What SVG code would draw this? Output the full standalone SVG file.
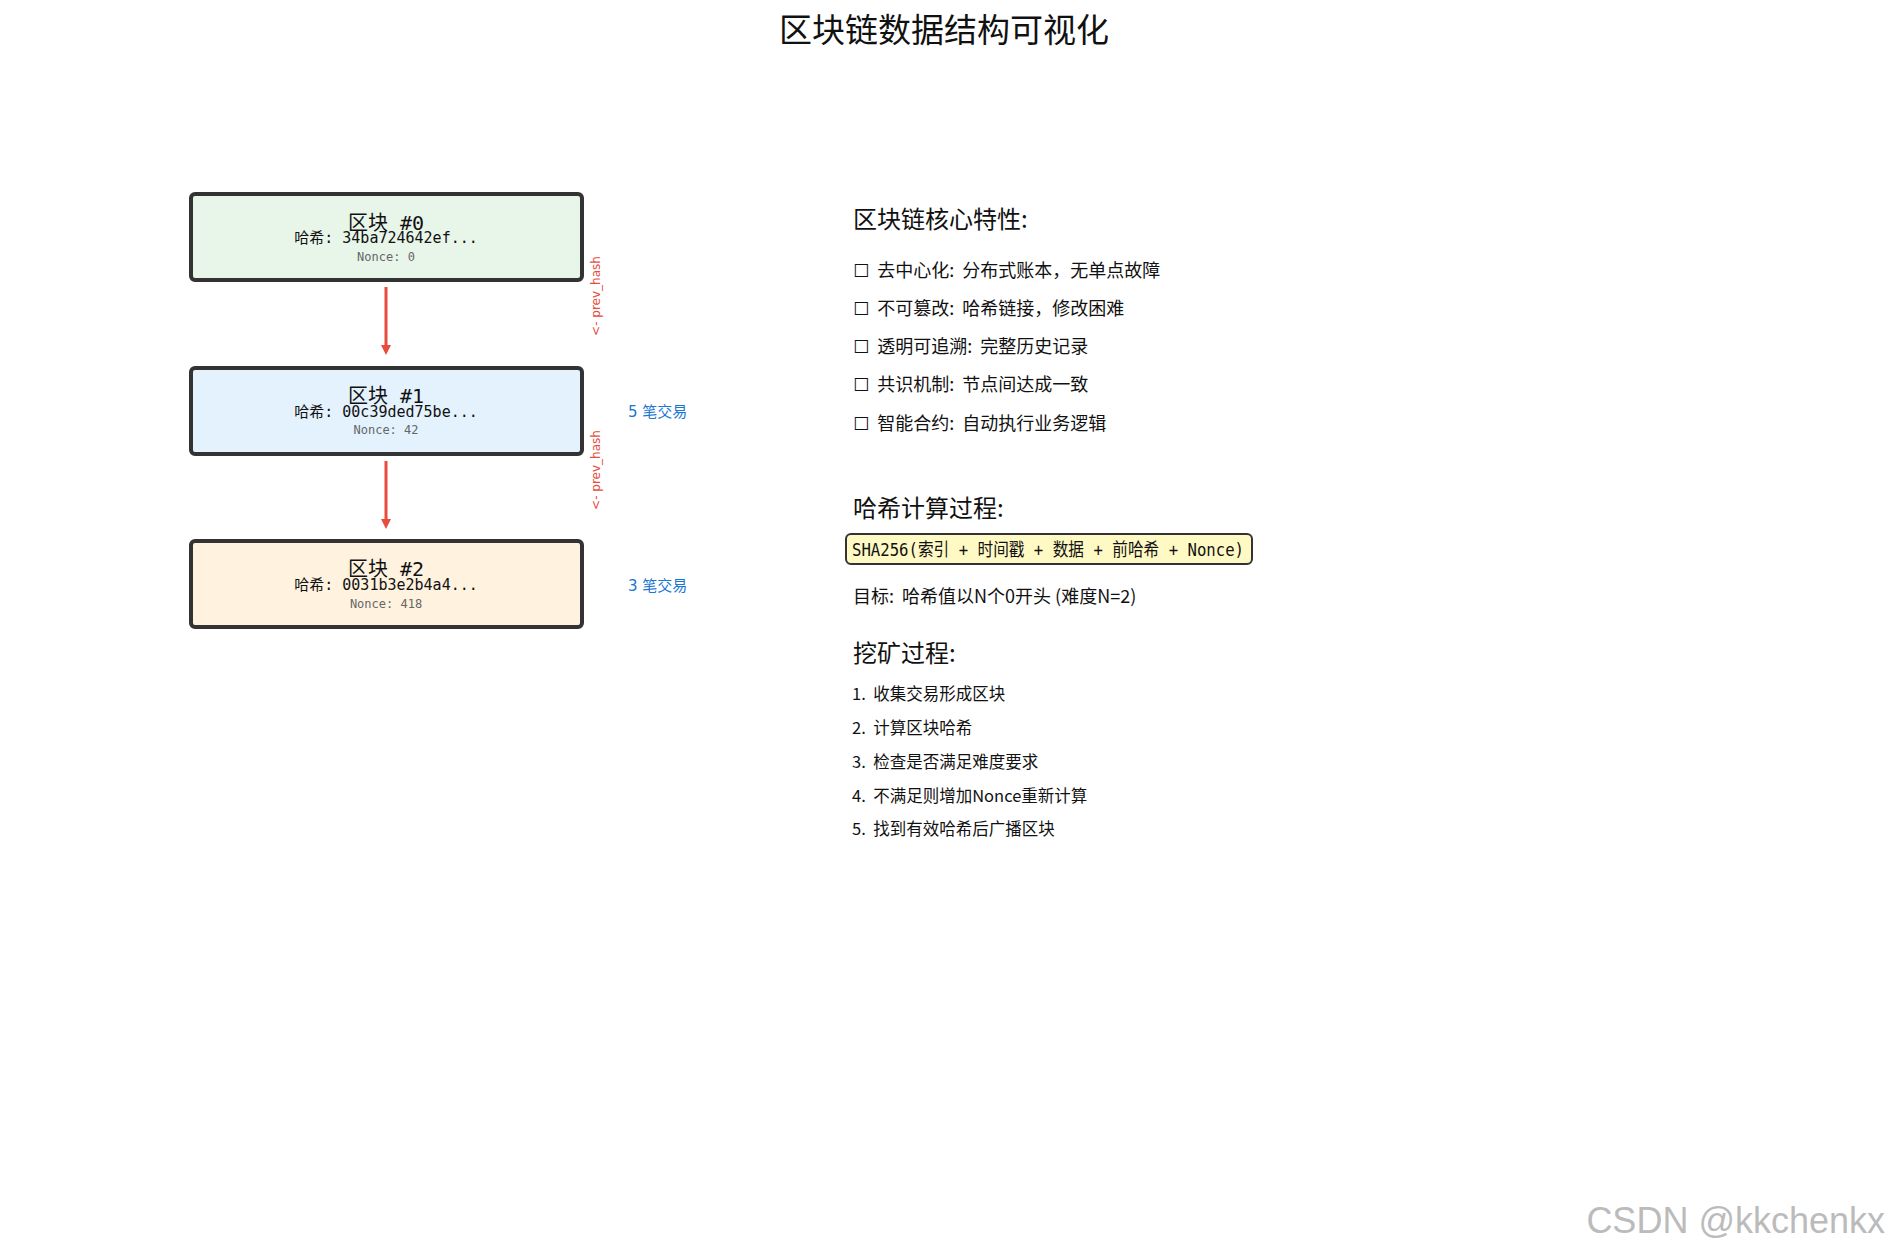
<svg xmlns="http://www.w3.org/2000/svg" width="1890" height="1253" viewBox="0 0 1890 1253">
<style>
.cn{font-family:"Noto Sans CJK SC","DejaVu Sans",sans-serif;fill:#111}
.mono{font-family:"DejaVu Sans Mono","Noto Sans CJK SC",monospace;fill:#111}
.blk{stroke:#333;stroke-width:4}
.t{font-size:20px;text-anchor:middle}
.h{font-size:15px;text-anchor:middle}
.n{font-size:12px;text-anchor:middle;fill:#666}
.ph{font-family:"DejaVu Sans",sans-serif;font-size:12px;fill:#e74c3c;text-anchor:middle}
.tx{font-family:"DejaVu Sans","Noto Sans CJK SC",sans-serif;font-size:15px;fill:#1976d2}
.it{font-size:18px}
.hd{font-size:24px}
.ml{font-size:16.5px}
</style>
<defs><marker id="ah" markerWidth="10" markerHeight="10" refX="5" refY="5" orient="auto" markerUnits="userSpaceOnUse"><path d="M0,0 L10,5 L0,10 z" fill="#e74c3c"/></marker></defs>
<rect width="1890" height="1253" fill="#fff"/>
<text class="cn" x="944" y="42" font-size="33" text-anchor="middle">区块链数据结构可视化</text>
<g id="block0"><rect class="blk" x="191" y="194" width="391" height="86" rx="4" fill="#e8f5e9"/>
<text class="mono t" x="386" y="230">区块 #0</text><text class="mono h" x="386" y="243">哈希: 34ba724642ef...</text><text class="mono n" x="386" y="261">Nonce: 0</text></g>
<g id="block1"><rect class="blk" x="191" y="368" width="391" height="86" rx="4" fill="#e3f2fd"/>
<text class="mono t" x="386" y="403">区块 #1</text><text class="mono h" x="386" y="417">哈希: 00c39ded75be...</text><text class="mono n" x="386" y="434">Nonce: 42</text></g>
<g id="block2"><rect class="blk" x="191" y="541" width="391" height="86" rx="4" fill="#fff3e0"/>
<text class="mono t" x="386" y="576">区块 #2</text><text class="mono h" x="386" y="590">哈希: 0031b3e2b4a4...</text><text class="mono n" x="386" y="608">Nonce: 418</text></g>
<g id="connectors">
<line x1="386" y1="287" x2="386" y2="350" stroke="#e74c3c" stroke-width="3" marker-end="url(#ah)"/>
<line x1="386" y1="461" x2="386" y2="524" stroke="#e74c3c" stroke-width="3" marker-end="url(#ah)"/>
<text class="ph" transform="translate(600,296) rotate(-90)">&lt;- prev_hash</text>
<text class="ph" transform="translate(600,470) rotate(-90)">&lt;- prev_hash</text>
</g>
<text class="tx" x="628" y="417">5 笔交易</text>
<text class="tx" x="628" y="591">3 笔交易</text>
<g id="features">
<text class="cn hd" x="853" y="228">区块链核心特性:</text>
<text class="cn it" x="853" y="277" xml:space="preserve">☐  去中心化:  分布式账本，无单点故障</text>
<text class="cn it" x="853" y="315" xml:space="preserve">☐  不可篡改:  哈希链接，修改困难</text>
<text class="cn it" x="853" y="353" xml:space="preserve">☐  透明可追溯:  完整历史记录</text>
<text class="cn it" x="853" y="391" xml:space="preserve">☐  共识机制:  节点间达成一致</text>
<text class="cn it" x="853" y="430" xml:space="preserve">☐  智能合约:  自动执行业务逻辑</text>
</g>
<g id="hash">
<text class="cn hd" x="853" y="517">哈希计算过程:</text>
<rect x="846" y="534" width="406" height="30" rx="5" fill="#fff9c4" stroke="#333" stroke-width="2"/>
<text class="mono" x="852" y="556" font-size="18" textLength="392" lengthAdjust="spacingAndGlyphs">SHA256(索引 + 时间戳 + 数据 + 前哈希 + Nonce)</text>
<text class="cn it" x="853" y="603" xml:space="preserve">目标:  哈希值以N个0开头 (难度N=2)</text>
</g>
<g id="mining">
<text class="cn hd" x="853" y="662">挖矿过程:</text>
<text class="cn ml" x="852" y="700" xml:space="preserve">1.  收集交易形成区块</text>
<text class="cn ml" x="852" y="734" xml:space="preserve">2.  计算区块哈希</text>
<text class="cn ml" x="852" y="768" xml:space="preserve">3.  检查是否满足难度要求</text>
<text class="cn ml" x="852" y="802" xml:space="preserve">4.  不满足则增加Nonce重新计算</text>
<text class="cn ml" x="852" y="835" xml:space="preserve">5.  找到有效哈希后广播区块</text>
</g>
<text x="1885" y="1233" font-family="Liberation Sans,sans-serif" font-size="36" fill="#bbb" text-anchor="end">CSDN @kkchenkx</text>
</svg>
